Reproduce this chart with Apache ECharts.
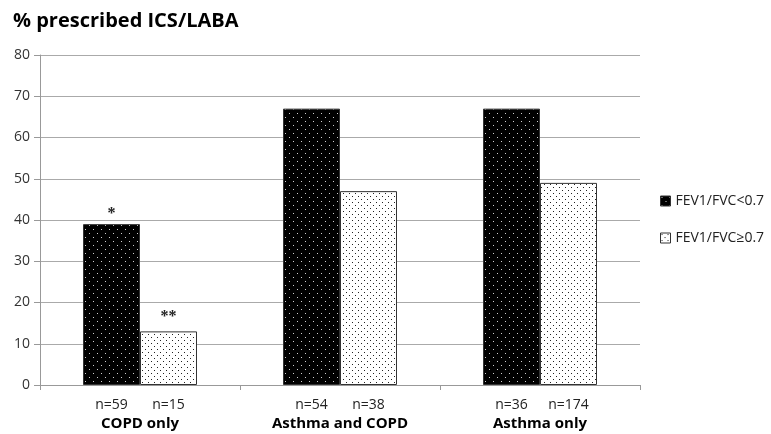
<!DOCTYPE html>
<html><head><meta charset="utf-8">
<script src="https://cdn.jsdelivr.net/npm/echarts@6/dist/echarts.min.js"></script>
<style>html,body{margin:0;padding:0;background:#fff}#c{width:771px;height:434px}</style>
</head><body><div id="c"></div>
<script>
const categories = ['COPD only', 'Asthma and COPD', 'Asthma only'];
const seriesNames = ['FEV1/FVC<0.7', 'FEV1/FVC\u22650.7'];
const lowRatio = [39, 67, 67];
const highRatio = [13, 47, 49];
const nLow = [59, 54, 36];
const nHigh = [15, 38, 174];
const yTicks = [0, 10, 20, 30, 40, 50, 60, 70, 80];
const marks = [{cat: 'COPD only', series: 0, text: '*'}, {cat: 'COPD only', series: 1, text: '**'}];

function pattern(bg, fg, size, dots) {
  const c = document.createElement('canvas');
  c.width = size; c.height = size;
  const g = c.getContext('2d');
  g.fillStyle = bg; g.fillRect(0, 0, size, size);
  g.fillStyle = fg;
  dots.forEach(d => g.fillRect(d[0], d[1], 1, 1));
  return {image: c, repeat: 'repeat'};
}
const darkPat = pattern('#000', '#cfcfcf', 8, [[1, 1], [5, 5]]);
const lightPat = pattern('#fff', '#222', 6, [[1, 1], [4, 4]]);

const chart = echarts.init(document.getElementById('c'));
const font = 'Open Sans, Liberation Sans, sans-serif';
const markDist = [2, 6];
function mk(si) {
  return marks.filter(m => m.series === si).map(m => ({
    coord: [m.cat, (si === 0 ? lowRatio : highRatio)[categories.indexOf(m.cat)]],
    value: m.text,
    label: {distance: markDist[si]}
  }));
}
function barSeries(si, data, ns, col) {
  return {
    name: seriesNames[si], type: 'bar', data: data,
    barWidth: 57, barGap: '0%',
    itemStyle: {color: col, borderColor: '#333', borderWidth: 1},
    label: {show: true, position: 'bottom', distance: 13, color: '#222', fontSize: 14, fontFamily: font,
      formatter: p => 'n=' + ns[p.dataIndex]},
    markPoint: {
      symbol: 'circle', symbolSize: 1, itemStyle: {color: 'rgba(0,0,0,0)'},
      label: {show: true, position: 'top', formatter: p => p.value, color: '#222',
        fontSize: 16, fontWeight: 'bold', fontFamily: 'Liberation Serif, serif'},
      data: mk(si)
    },
    emphasis: {disabled: true}
  };
}
chart.setOption({
  animation: false,
  title: {text: '% prescribed ICS/LABA', left: 8, top: 6,
    textStyle: {fontSize: 20, fontWeight: 'bold', color: '#000', fontFamily: font}},
  grid: {left: 40, right: 131, top: 55, bottom: 49},
  legend: {orient: 'vertical', left: 655, top: 189, itemWidth: 10, itemHeight: 10, itemGap: 23,
    icon: 'rect', textStyle: {fontSize: 14, color: '#222', fontFamily: font},
    itemStyle: {borderColor: '#333', borderWidth: 1}},
  xAxis: {type: 'category', data: categories,
    axisLine: {lineStyle: {color: '#999'}},
    axisTick: {show: true, length: 5, lineStyle: {color: '#999'}},
    axisLabel: {margin: 31, fontSize: 15, fontWeight: 'bold', color: '#000', fontFamily: font}},
  yAxis: {type: 'value', min: 0, max: 80, interval: 10,
    axisLine: {show: true, lineStyle: {color: '#999'}},
    axisTick: {show: true, length: 6, lineStyle: {color: '#999'}},
    splitLine: {lineStyle: {color: '#aaa'}},
    axisLabel: {fontSize: 14, color: '#333', margin: 10, fontFamily: font,
      formatter: v => yTicks.includes(v) ? String(v) : ''}},
  series: [barSeries(0, lowRatio, nLow, darkPat), barSeries(1, highRatio, nHigh, lightPat)]
});
</script></body></html>
